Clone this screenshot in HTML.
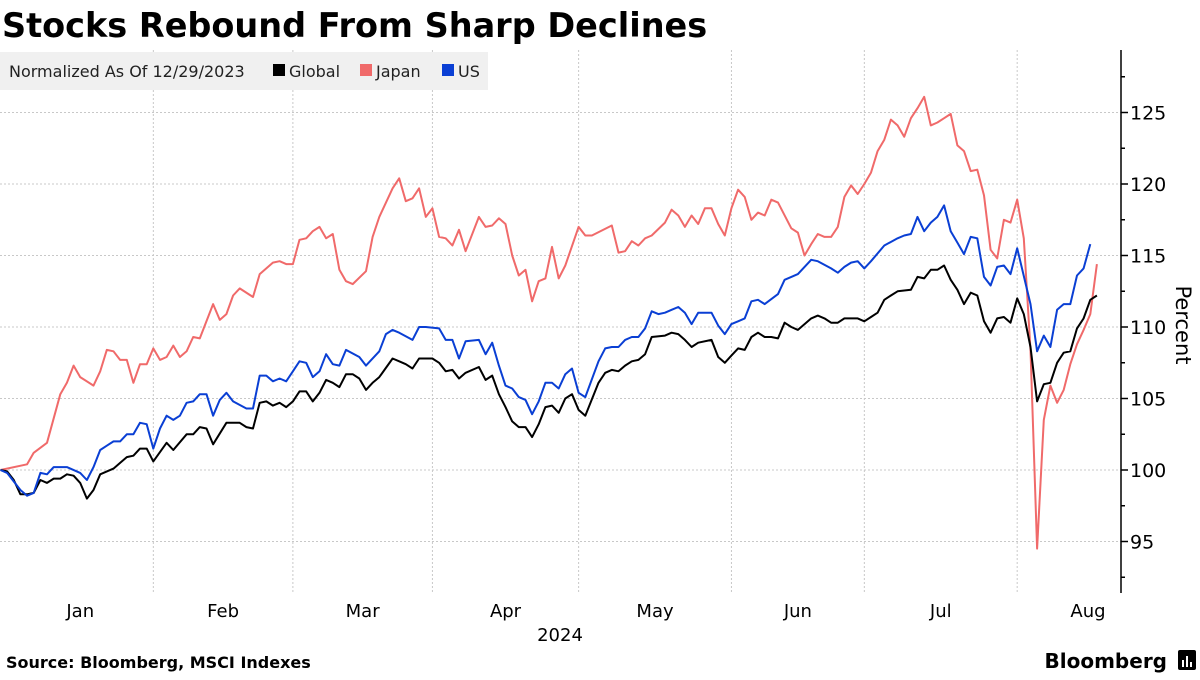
<!DOCTYPE html>
<html><head><meta charset="utf-8">
<style>
html,body{margin:0;padding:0;background:#fff;}
body{width:1200px;height:675px;overflow:hidden;font-family:"Liberation Sans","DejaVu Sans",sans-serif;}
svg text{font-family:"DejaVu Sans","Liberation Sans",sans-serif;}
</style></head>
<body>
<svg id="chart" width="1200" height="675" viewBox="0 0 1200 675" xmlns="http://www.w3.org/2000/svg">
  <text x="2" y="37" font-size="33.5" font-weight="bold" fill="#000" style="font-family:'DejaVu Sans','Liberation Sans',sans-serif">Stocks Rebound From Sharp Declines</text>
  <g id="grid"></g>
  <g id="series"></g>
  <g id="axis"></g>
  <g id="xaxis"></g>
  <g>
    <rect x="0" y="52" width="488" height="38" fill="#f0f0f0"/>
    <text x="9" y="77" font-size="16" fill="#222">Normalized As Of 12/29/2023</text>
    <rect x="273" y="64" width="12" height="12" fill="#000"/>
    <text x="289" y="77" font-size="16" fill="#222">Global</text>
    <rect x="360" y="64" width="12" height="12" fill="#f06a6a"/>
    <text x="376" y="77" font-size="16" fill="#222">Japan</text>
    <rect x="442" y="64" width="12" height="12" fill="#0a3fd4"/>
    <text x="458" y="77" font-size="16" fill="#222">US</text>
  </g>
  <text transform="translate(1176,325) rotate(90)" text-anchor="middle" font-size="21" fill="#000">Percent</text>
  <text x="6" y="668" font-size="16" font-weight="bold" fill="#000">Source: Bloomberg, MSCI Indexes</text>
  <text x="1167" y="668" text-anchor="end" font-size="20" font-weight="bold" fill="#000">Bloomberg</text>
  <g>
    <rect x="1178" y="650" width="18" height="20" rx="2" fill="#000"/>
    <rect x="1182" y="660" width="2" height="7" fill="#fff"/>
    <rect x="1186" y="656" width="2" height="11" fill="#fff"/>
    <rect x="1190" y="662" width="2" height="5" fill="#fff"/>
  </g>
</svg>
<script>
// ---- data (index = weekday count since 2023-12-29) ----
const yTicks = [95, 100, 105, 110, 115, 120, 125];
const yMinorTicks = [92.5, 97.5, 102.5, 107.5, 112.5, 117.5, 122.5, 127.5];
const monthLabels = ["Jan","Feb","Mar","Apr","May","Jun","Jul","Aug"];
const monthStartIdx = [1, 23, 44, 65, 87, 110, 130, 153];
const yearLabel = "2024";

const japanDays = [0,4,5,7,9,10,11,12,14,15,16,17,18,19,20,21,22,23,24,25,26,27,28,29,30,32,33,34,35,36,38,39,40,41,42,43,44,45,46,47,48,49,50,51,52,53,55,56,57,59,60,61,62,63,64,65,66,67,68,69,70,72,73,74,75,76,77,78,79,80,81,82,83,84,85,87,88,89,92,93,94,95,96,97,98,100,101,102,103,104,105,106,107,108,109,110,111,112,113,114,115,116,117,119,120,121,122,123,124,125,126,127,128,129,130,131,132,133,134,135,136,137,138,139,140,141,142,143,144,145,146,147,148,149,150,151,152,153,154,155,156,157,158,159,160,161,162,163,164,165];
const japanValues = [100,100.4,101.2,101.9,105.3,106.1,107.3,106.5,105.9,106.9,108.4,108.3,107.7,107.7,106.1,107.4,107.4,108.5,107.7,107.9,108.7,107.9,108.3,109.3,109.2,111.6,110.5,110.9,112.2,112.7,112.1,113.7,114.1,114.5,114.6,114.4,114.4,116.1,116.2,116.7,117.0,116.2,116.5,114.0,113.2,113.0,113.9,116.3,117.7,119.7,120.4,118.8,119.0,119.7,117.7,118.3,116.3,116.2,115.7,116.8,115.3,117.7,117.0,117.1,117.6,117.2,115.0,113.6,114.0,111.8,113.2,113.4,115.6,113.4,114.3,117.0,116.4,116.4,117.1,115.2,115.3,116.0,115.7,116.2,116.4,117.3,118.2,117.8,117.0,117.8,117.2,118.3,118.3,117.2,116.4,118.3,119.6,119.1,117.5,118.0,117.8,118.9,118.7,116.9,116.6,115.0,115.8,116.5,116.3,116.3,117.0,119.1,119.9,119.3,120.0,120.8,122.3,123.1,124.5,124.1,123.3,124.6,125.3,126.1,124.1,124.3,124.6,124.9,122.7,122.3,120.9,121.0,119.2,115.4,114.8,117.5,117.3,118.9,116.2,108.4,94.5,103.5,105.9,104.7,105.6,107.4,108.8,109.8,110.9,114.4];

const usDays = [0,1,3,4,5,6,7,8,10,12,13,14,15,16,17,18,19,20,21,22,23,24,25,26,27,28,29,30,31,32,33,34,35,37,38,39,40,41,42,43,44,45,46,47,48,49,50,51,52,54,55,57,58,59,60,62,63,64,66,67,68,69,70,72,73,74,75,76,77,78,79,80,81,82,83,84,85,86,87,88,90,91,92,93,94,95,96,97,98,99,100,101,102,103,104,105,107,108,109,110,111,112,113,114,115,117,118,119,120,122,123,125,126,127,128,129,130,131,133,135,136,137,138,139,140,141,142,143,144,145,146,147,148,149,150,151,152,153,155,156,157,158,159,160,161,162,163,164];
const usValues = [100,99.8,98.6,98.2,98.4,99.8,99.7,100.2,100.2,99.8,99.3,100.2,101.4,101.7,102.0,102.0,102.5,102.5,103.3,103.2,101.5,102.9,103.8,103.5,103.8,104.7,104.8,105.3,105.3,103.8,104.9,105.4,104.8,104.3,104.3,106.6,106.6,106.2,106.4,106.2,106.9,107.6,107.5,106.5,106.9,108.1,107.4,107.3,108.4,107.9,107.3,108.3,109.5,109.8,109.6,109.1,110.0,110.0,109.9,109.1,109.1,107.8,109.0,109.1,108.1,108.9,107.3,105.9,105.7,105.1,104.9,103.9,104.8,106.1,106.1,105.7,106.7,107.1,105.4,105.1,107.6,108.5,108.6,108.6,109.1,109.3,109.3,109.9,111.1,110.9,111.0,111.2,111.4,111.0,110.2,111.0,111.0,110.1,109.5,110.2,110.4,110.6,111.8,111.9,111.6,112.3,113.3,113.5,113.7,114.7,114.6,114.1,113.8,114.2,114.5,114.6,114.1,114.6,115.7,116.2,116.4,116.5,117.7,116.7,117.3,117.7,118.5,116.7,115.9,115.1,116.3,116.2,113.5,112.9,114.2,114.3,113.7,115.5,111.6,108.3,109.4,108.6,111.2,111.6,111.6,113.6,114.1,115.8];

const globalDays = [0,1,2,3,4,5,6,7,8,9,10,11,12,13,14,15,17,18,19,20,21,22,23,25,26,28,29,30,31,32,34,36,37,38,39,40,41,42,43,44,45,46,47,48,49,50,51,52,53,54,55,56,57,59,60,61,62,63,65,66,67,68,69,70,72,73,74,75,76,77,78,79,80,81,82,83,84,85,86,87,88,90,91,92,93,94,95,96,97,98,100,101,102,103,104,105,107,108,109,110,111,112,113,114,115,116,117,118,119,120,122,123,124,125,126,127,129,130,131,132,133,134,135,137,138,139,140,141,142,143,144,145,146,147,148,149,150,151,152,153,154,155,156,157,158,159,160,161,162,163,164,165];
const globalValues = [100,99.9,99.3,98.3,98.3,98.4,99.3,99.1,99.4,99.4,99.7,99.6,99.1,98.0,98.6,99.7,100.1,100.5,100.9,101.0,101.5,101.5,100.6,101.9,101.4,102.5,102.5,103.0,102.9,101.8,103.3,103.3,103.0,102.9,104.7,104.8,104.5,104.7,104.4,104.8,105.5,105.5,104.8,105.4,106.3,106.1,105.8,106.7,106.7,106.4,105.6,106.1,106.5,107.8,107.6,107.4,107.1,107.8,107.8,107.5,106.9,107.0,106.4,106.8,107.2,106.3,106.6,105.3,104.4,103.4,103.0,103.0,102.3,103.2,104.4,104.5,104.0,105.0,105.3,104.2,103.8,106.1,106.8,107.0,106.9,107.3,107.6,107.7,108.1,109.3,109.4,109.6,109.5,109.1,108.6,108.9,109.1,107.9,107.5,108.0,108.5,108.4,109.3,109.6,109.3,109.3,109.2,110.3,110.0,109.8,110.6,110.8,110.6,110.3,110.3,110.6,110.6,110.4,110.7,111.0,111.9,112.2,112.5,112.6,113.5,113.4,114.0,114.0,114.3,113.3,112.6,111.6,112.4,112.2,110.4,109.6,110.6,110.7,110.3,112.0,110.9,108.6,104.8,106.0,106.1,107.5,108.2,108.3,109.9,110.6,111.9,112.2];

// ---- scales ----
const PLOT_TOP = 50, PLOT_BOTTOM = 593, PLOT_RIGHT = 1121;
function xScale(i){ return 0.5 + i * 6.645; }
function yScale(v){ return 470 - (v - 100) * 14.3; }
const NS = "http://www.w3.org/2000/svg";
function mk(tag, attrs, parent){ const e = document.createElementNS(NS, tag); for (const k in attrs) e.setAttribute(k, attrs[k]); parent.appendChild(e); return e; }

const grid = document.getElementById('grid');
yTicks.forEach(v => {
  const l = mk('line', {x1:0, x2:PLOT_RIGHT, y1:yScale(v), y2:yScale(v), stroke:'#c8c8c8', 'stroke-width':1, 'stroke-dasharray':'2,2'}, grid);
  
  
});
monthStartIdx.slice(1).forEach(i => {
  const l = mk('line', {x1:xScale(i), x2:xScale(i), y1:PLOT_TOP, y2:PLOT_BOTTOM, stroke:'#c8c8c8', 'stroke-width':1, 'stroke-dasharray':'2,2'}, grid);
  
  
});

const series = document.getElementById('series');
function drawLine(days, vals, color, name){
  const d = days.map((di, k) => (k ? 'L' : 'M') + xScale(di).toFixed(1) + ',' + yScale(vals[k]).toFixed(1)).join(' ');
  const p = mk('path', {d:d, fill:'none', stroke:color, 'stroke-width':2, 'stroke-linejoin':'round'}, series);
  
  
}
drawLine(japanDays, japanValues, '#f06a6a', 'japan-line');
drawLine(globalDays, globalValues, '#000000', 'global-line');
drawLine(usDays, usValues, '#0a3fd4', 'us-line');

const axis = document.getElementById('axis');
const al = mk('line', {x1:PLOT_RIGHT, x2:PLOT_RIGHT, y1:PLOT_TOP, y2:PLOT_BOTTOM, stroke:'#000', 'stroke-width':1.5}, axis);


yTicks.forEach(v => {
  const t = mk('line', {x1:PLOT_RIGHT, x2:PLOT_RIGHT+7, y1:yScale(v), y2:yScale(v), stroke:'#000', 'stroke-width':1.5}, axis);
  
  
  const tx = mk('text', {x:PLOT_RIGHT+9, y:yScale(v)+7, 'font-size':19, fill:'#000'}, axis);
  tx.textContent = String(v);
  
  
});
yMinorTicks.forEach(v => {
  const t = mk('line', {x1:PLOT_RIGHT, x2:PLOT_RIGHT+4, y1:yScale(v), y2:yScale(v), stroke:'#000', 'stroke-width':1.5}, axis);
  
  
});

const xaxis = document.getElementById('xaxis');
monthLabels.forEach((m, k) => {
  const a = xScale(monthStartIdx[k]);
  const b = k + 1 < monthStartIdx.length ? xScale(monthStartIdx[k+1]) : xScale(monthStartIdx[k]) + 142;
  const cx = k === monthLabels.length - 1 ? 1088 : (a + b) / 2;
  const t = mk('text', {x:cx, y:617, 'text-anchor':'middle', 'font-size':18, fill:'#000'}, xaxis);
  t.textContent = m;
  
  
});
const yr = mk('text', {x:560, y:641, 'text-anchor':'middle', 'font-size':18, fill:'#000'}, xaxis);
yr.textContent = yearLabel;


</script>
</body></html>
